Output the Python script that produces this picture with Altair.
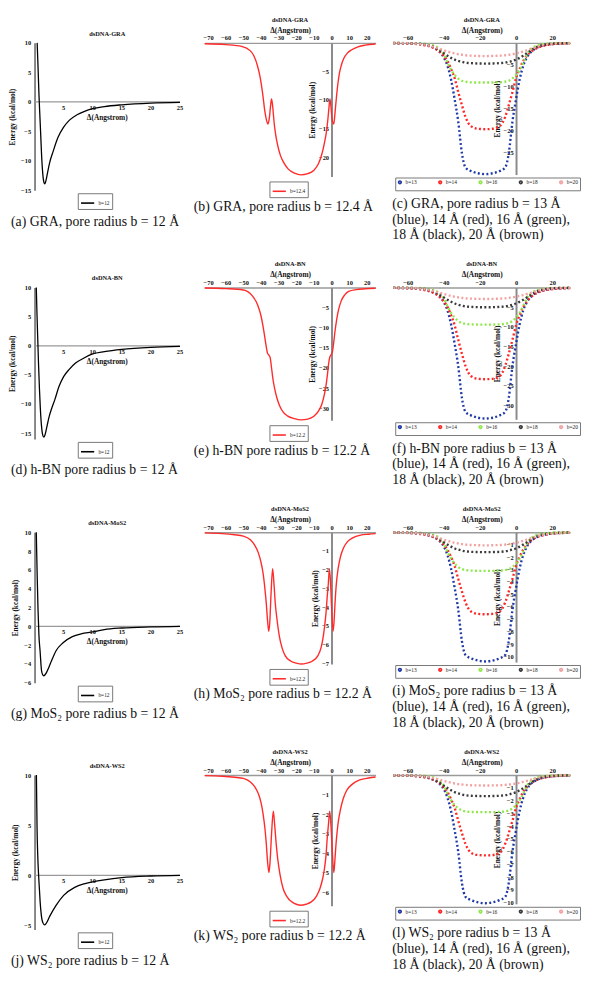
import altair as alt
import pandas as pd

FONT = "Liberation Serif"

# ---------------- column 1: b = 12 (x in Angstrom, energy in kcal/mol) ----------------
a_gra_x = [0.45, 0.6, 0.75, 0.9, 1.05, 1.2, 1.4, 1.6, 1.76, 1.95, 2.2, 2.6, 3.2, 4.0, 5.0, 6.0, 7.3, 8.5, 10, 12, 15, 20, 25]
a_gra_y = [10, 6.0, 1.5, -2.0, -5.3, -8.8, -12.0, -13.6, -13.9, -13.4, -12.2, -10.3, -8.4, -6.1, -4.3, -3.1, -2.2, -1.65, -1.15, -0.8, -0.5, -0.22, -0.1]
a_bn_x = [0.3, 0.42, 0.55, 0.7, 0.85, 1.0, 1.2, 1.4, 1.6, 1.8, 2.1, 2.5, 3.0, 3.5, 4.2, 5.0, 6.0, 7.0, 8.5, 10, 12, 15, 20, 25]
a_bn_y = [10, 5.5, 1.2, -3.5, -7.5, -10.8, -13.8, -15.3, -15.7, -15.3, -14.0, -12.2, -10.6, -9.2, -7.0, -5.3, -4.0, -3.0, -2.1, -1.4, -1.0, -0.6, -0.25, -0.1]
a_mos2_x = [0.3, 0.45, 0.6, 0.75, 0.95, 1.2, 1.4, 1.6, 1.8, 2.07, 2.5, 2.9, 3.7, 4.9, 6.5, 8, 10, 12, 15, 20, 25]
a_mos2_y = [10, 5.5, 1.8, -0.9, -2.6, -4.7, -5.15, -5.26, -5.15, -4.9, -4.3, -3.7, -2.6, -1.75, -1.1, -0.8, -0.6, -0.35, -0.18, -0.06, 0]
a_ws2_x = [0.32, 0.43, 0.55, 0.7, 0.85, 0.97, 1.1, 1.24, 1.45, 1.7, 2.0, 2.6, 3.7, 5.0, 6.9, 8.5, 10, 12, 15, 20, 25]
a_ws2_y = [10, 4.8, 2.0, 0, -1.5, -2.7, -3.6, -4.3, -4.75, -4.95, -4.8, -4.1, -3.0, -2.0, -1.2, -0.85, -0.65, -0.45, -0.23, -0.07, 0]
a_xticks = [5, 10, 15, 20, 25]

# ---------------- column 2: b = 12.4 / 12.2 ----------------
b_gra_x = [-72, -60, -51, -46, -44, -42, -40.5, -39, -37.8, -36.8, -36, -35.2, -34.5, -34, -33.4, -32.6, -31.8, -30.5, -29, -27, -24.5, -21, -17.3, -13.5, -10, -7.5, -5.5, -4, -3, -2.2, -1.5, -0.9, -0.3, 0.4, 1.3, 2.0, 2.8, 3.6, 4.5, 5.5, 7, 9, 11.5, 15, 19, 25]
b_gra_y = [-0.15, -0.3, -0.6, -1.4, -2.3, -4.0, -6.0, -9.0, -12.0, -13.6, -14.2, -13.0, -10.8, -9.8, -11.0, -13.8, -15.8, -18.0, -19.7, -21.0, -22.1, -22.8, -23.1, -22.9, -22.3, -21.2, -19.5, -17.5, -15.8, -13.8, -11.5, -9.8, -11.2, -13.5, -14.2, -12.2, -9.5, -7.2, -5.3, -4.0, -2.7, -1.8, -1.2, -0.7, -0.4, -0.2]
b_bn_x = [-72, -60, -50, -45, -42, -40, -38.5, -37.2, -36.3, -35.5, -34.8, -34, -33.2, -32.3, -31, -29.5, -27.5, -25, -21, -17.2, -13.5, -10, -7.5, -5.5, -4, -3, -2.2, -1.5, -0.9, -0.2, 0.5, 1.2, 2, 3, 4, 5.5, 7.5, 10, 14, 19, 25]
b_bn_y = [-0.1, -0.25, -0.6, -2.0, -4.2, -7.0, -10.5, -14.2, -16.3, -16.8, -17.4, -20.0, -22.8, -25.0, -27.4, -29.3, -30.9, -31.9, -32.6, -32.9, -32.7, -32.0, -30.8, -29.0, -26.5, -24.0, -21.2, -18.5, -17.2, -16.7, -16.0, -13.8, -10.8, -7.8, -5.5, -3.3, -1.8, -0.9, -0.5, -0.3, -0.15]
b_mos2_x = [-72, -62, -55, -50, -46, -43.5, -41.5, -40, -38.8, -37.8, -37, -36.3, -35.6, -35, -34.3, -33.4, -32.6, -31.9, -31, -29.6, -28, -26.3, -23, -20, -17, -14, -11, -7.7, -6, -4.9, -4, -3.1, -2.4, -1.8, -1.2, -0.6, 0, 0.9, 1.5, 2, 2.7, 3.5, 4.4, 5.4, 7, 9.1, 12, 16.5, 21, 25]
b_mos2_y = [-0.03, -0.07, -0.13, -0.2, -0.4, -0.7, -1.1, -1.6, -2.2, -3.0, -3.8, -4.7, -5.3, -4.8, -3.3, -1.95, -2.8, -3.8, -4.6, -5.55, -6.2, -6.6, -6.9, -7.0, -7.05, -7.0, -6.9, -6.6, -6.2, -5.7, -5.1, -4.3, -3.4, -2.75, -1.95, -2.6, -3.9, -5.3, -4.7, -3.8, -2.8, -2.1, -1.6, -1.2, -0.8, -0.5, -0.3, -0.15, -0.1, -0.07]
b_ws2_x = [-72, -62, -55, -50, -46, -43.5, -41.5, -40, -38.8, -37.8, -37, -36.3, -35.5, -34.9, -34, -33, -32.2, -31.4, -30.5, -29.2, -27.5, -25.5, -22.5, -20, -17.3, -14.5, -11.5, -8.5, -6.5, -5, -4, -3.1, -2.4, -1.7, -1.0, -0.3, 0.4, 1.3, 1.9, 2.5, 3.2, 4, 5, 6.5, 8.5, 12, 16, 21, 25]
b_ws2_y = [-0.03, -0.06, -0.11, -0.17, -0.35, -0.6, -0.95, -1.4, -2.0, -2.7, -3.5, -4.4, -5.0, -4.5, -3.0, -1.85, -2.6, -3.5, -4.3, -5.1, -5.8, -6.2, -6.5, -6.62, -6.67, -6.62, -6.5, -6.2, -5.8, -5.3, -4.8, -4.1, -3.2, -2.5, -1.85, -2.6, -3.8, -5.0, -4.4, -3.6, -2.9, -2.3, -1.8, -1.25, -0.8, -0.45, -0.25, -0.15, -0.1]

# ---------------- column 3: b = 13, 14, 16, 18, 20 ----------------
c_x = [-68, -62, -55, -50, -46, -43, -40, -38, -36, -34, -32, -30, -28, -25, -21, -17, -13, -9, -6, -4, -2, 0, 2, 4, 6, 9, 12, 16, 21, 26, 30]
c_series = ["b=13", "b=14", "b=16", "b=18", "b=20"]
c_colors = ["#1f3aa8", "#ff2626", "#8ee84a", "#3a3a3a", "#f3a0a0"]

c_gra = [
    [-0.06, -0.12, -0.24, -0.5, -1.0, -1.8, -3.3, -5.2, -8.3, -12.8, -17.9, -25.0, -28.3, -29.1, -29.6, -29.8, -29.6, -29.1, -28.3, -25.0, -17.9, -12.8, -8.3, -5.2, -3.3, -1.8, -1.0, -0.5, -0.24, -0.15, -0.09],
    [-0.06, -0.12, -0.27, -0.59, -1.1, -1.8, -2.9, -4.1, -5.9, -8.0, -11.2, -14.1, -16.8, -18.9, -19.5, -19.6, -19.5, -18.9, -16.8, -14.1, -11.2, -8.0, -5.9, -4.1, -2.9, -1.8, -1.1, -0.59, -0.27, -0.16, -0.1],
    [-0.02, -0.04, -0.09, -0.23, -0.54, -1.17, -2.6, -4.5, -6.1, -7.3, -8.1, -8.6, -8.8, -8.96, -9.0, -9.0, -9.0, -8.96, -8.8, -8.6, -8.1, -7.3, -6.1, -4.5, -2.6, -1.17, -0.54, -0.23, -0.09, -0.05, -0.03],
    [-0.02, -0.05, -0.14, -0.38, -0.85, -1.5, -2.35, -2.9, -3.4, -3.8, -4.1, -4.3, -4.5, -4.6, -4.68, -4.7, -4.68, -4.6, -4.5, -4.3, -4.1, -3.8, -3.4, -2.9, -2.35, -1.5, -0.85, -0.38, -0.14, -0.07, -0.04],
    [-0.03, -0.06, -0.18, -0.45, -0.84, -1.26, -1.68, -1.95, -2.19, -2.4, -2.58, -2.7, -2.82, -2.91, -2.97, -3.0, -2.97, -2.91, -2.82, -2.7, -2.58, -2.4, -2.19, -1.95, -1.68, -1.26, -0.84, -0.45, -0.18, -0.09, -0.05],
]
c_bn = [
    [-0.07, -0.13, -0.27, -0.57, -1.17, -2.0, -3.7, -5.8, -9.3, -14.3, -20.0, -28.0, -31.6, -32.5, -33.1, -33.3, -33.1, -32.5, -31.6, -28.0, -20.0, -14.3, -9.3, -5.8, -3.7, -2.0, -1.17, -0.57, -0.27, -0.17, -0.1],
    [-0.07, -0.14, -0.33, -0.7, -1.28, -2.1, -3.5, -4.9, -7.0, -9.6, -13.3, -16.8, -19.9, -22.5, -23.2, -23.3, -23.2, -22.5, -19.9, -16.8, -13.3, -9.6, -7.0, -4.9, -3.5, -2.1, -1.28, -0.7, -0.33, -0.19, -0.12],
    [-0.02, -0.04, -0.09, -0.24, -0.56, -1.22, -2.7, -4.7, -6.4, -7.6, -8.5, -9.0, -9.2, -9.35, -9.4, -9.4, -9.4, -9.35, -9.2, -9.0, -8.5, -7.6, -6.4, -4.7, -2.7, -1.22, -0.56, -0.24, -0.09, -0.06, -0.03],
    [-0.03, -0.05, -0.15, -0.4, -0.9, -1.6, -2.5, -3.1, -3.6, -4.05, -4.35, -4.6, -4.78, -4.9, -4.98, -5.0, -4.98, -4.9, -4.78, -4.6, -4.35, -4.05, -3.6, -3.1, -2.5, -1.6, -0.9, -0.4, -0.15, -0.08, -0.04],
    [-0.03, -0.06, -0.17, -0.44, -0.81, -1.22, -1.62, -1.89, -2.12, -2.32, -2.49, -2.61, -2.73, -2.81, -2.87, -2.9, -2.87, -2.81, -2.73, -2.61, -2.49, -2.32, -2.12, -1.89, -1.62, -1.22, -0.81, -0.44, -0.17, -0.09, -0.04],
]
c_mos2 = [
    [-0.02, -0.04, -0.08, -0.18, -0.36, -0.62, -1.14, -1.82, -2.91, -4.47, -6.24, -8.74, -9.88, -10.14, -10.33, -10.4, -10.33, -10.14, -9.88, -8.74, -6.24, -4.47, -2.91, -1.82, -1.14, -0.62, -0.36, -0.18, -0.08, -0.05, -0.03],
    [-0.02, -0.04, -0.09, -0.2, -0.36, -0.59, -0.99, -1.39, -1.98, -2.71, -3.76, -4.75, -5.64, -6.37, -6.57, -6.6, -6.57, -6.37, -5.64, -4.75, -3.76, -2.71, -1.98, -1.39, -0.99, -0.59, -0.36, -0.2, -0.09, -0.05, -0.03],
    [-0.01, -0.01, -0.03, -0.08, -0.19, -0.4, -0.9, -1.55, -2.11, -2.51, -2.79, -2.96, -3.04, -3.08, -3.1, -3.1, -3.1, -3.08, -3.04, -2.96, -2.79, -2.51, -2.11, -1.55, -0.9, -0.4, -0.19, -0.08, -0.03, -0.02, -0.01],
    [-0.01, -0.02, -0.05, -0.13, -0.29, -0.51, -0.8, -0.99, -1.15, -1.3, -1.39, -1.47, -1.53, -1.57, -1.59, -1.6, -1.59, -1.57, -1.53, -1.47, -1.39, -1.3, -1.15, -0.99, -0.8, -0.51, -0.29, -0.13, -0.05, -0.02, -0.01],
    [-0.01, -0.02, -0.06, -0.16, -0.29, -0.44, -0.59, -0.68, -0.77, -0.84, -0.9, -0.95, -0.99, -1.02, -1.04, -1.05, -1.04, -1.02, -0.99, -0.95, -0.9, -0.84, -0.77, -0.68, -0.59, -0.44, -0.29, -0.16, -0.06, -0.03, -0.02],
]
c_ws2 = [
    [-0.02, -0.04, -0.08, -0.17, -0.35, -0.6, -1.11, -1.76, -2.81, -4.32, -6.03, -8.44, -9.55, -9.8, -9.98, -10.05, -9.98, -9.8, -9.55, -8.44, -6.03, -4.32, -2.81, -1.76, -1.11, -0.6, -0.35, -0.17, -0.08, -0.05, -0.03],
    [-0.02, -0.04, -0.09, -0.19, -0.35, -0.57, -0.95, -1.32, -1.89, -2.58, -3.59, -4.54, -5.39, -6.08, -6.27, -6.3, -6.27, -6.08, -5.39, -4.54, -3.59, -2.58, -1.89, -1.32, -0.95, -0.57, -0.35, -0.19, -0.09, -0.05, -0.03],
    [-0.01, -0.01, -0.03, -0.07, -0.17, -0.38, -0.84, -1.45, -1.97, -2.35, -2.61, -2.77, -2.84, -2.89, -2.9, -2.9, -2.9, -2.89, -2.84, -2.77, -2.61, -2.35, -1.97, -1.45, -0.84, -0.38, -0.17, -0.07, -0.03, -0.02, -0.01],
    [-0.01, -0.02, -0.05, -0.13, -0.3, -0.53, -0.83, -1.02, -1.19, -1.34, -1.44, -1.52, -1.58, -1.62, -1.64, -1.65, -1.64, -1.62, -1.58, -1.52, -1.44, -1.34, -1.19, -1.02, -0.83, -0.53, -0.3, -0.13, -0.05, -0.02, -0.01],
    [-0.01, -0.02, -0.05, -0.12, -0.23, -0.34, -0.46, -0.53, -0.6, -0.66, -0.71, -0.74, -0.77, -0.8, -0.81, -0.82, -0.81, -0.8, -0.77, -0.74, -0.71, -0.66, -0.6, -0.53, -0.46, -0.34, -0.23, -0.12, -0.05, -0.02, -0.01],
]

# ---------------- text ----------------
headers = ["dsDNA-GRA", "dsDNA-BN", "dsDNA-MoS2", "dsDNA-WS2"]
tail = "(blue), 14 Å (red), 16 Å (green),\n18 Å (black), 20 Å (brown)"
captions = [
    ["(a) GRA, pore radius b = 12 Å", "(b) GRA, pore radius b = 12.4 Å", "(c) GRA, pore radius b = 13 Å\n" + tail],
    ["(d) h-BN pore radius b = 12 Å", "(e) h-BN pore radius b = 12.2 Å", "(f) h-BN pore radius b = 13 Å\n" + tail],
    ["(g) MoS₂ pore radius b = 12 Å", "(h) MoS₂ pore radius b = 12.2 Å", "(i) MoS₂ pore radius b = 13 Å\n" + tail],
    ["(j) WS₂ pore radius b = 12 Å", "(k) WS₂ pore radius b = 12.2 Å", "(l) WS₂ pore radius b = 13 Å\n" + tail],
]
b_labels = ["b=12.4", "b=12.2", "b=12.2", "b=12.2"]

a_sets = [(a_gra_x, a_gra_y, [-15, 10], [-15, -10, -5, 0, 5, 10], 150),
          (a_bn_x, a_bn_y, [-16, 10], [-15, -10, -5, 0, 5, 10], 154),
          (a_mos2_x, a_mos2_y, [-6, 10], [-6, -4, -2, 0, 2, 4, 6, 8, 10], 153),
          (a_ws2_x, a_ws2_y, [-5.4, 10], [-5, 0, 5, 10], 157)]
b_sets = [(b_gra_x, b_gra_y, [-23.4, 0], [-5, -10, -15, -20], 136),
          (b_bn_x, b_bn_y, [-33, 0], [-5, -10, -15, -20, -25, -30], 135),
          (b_mos2_x, b_mos2_y, [-7.05, 0], [-1, -2, -3, -4, -5, -6, -7], 134),
          (b_ws2_x, b_ws2_y, [-6.7, 0], [-1, -2, -3, -4, -5, -6], 133)]
c_sets = [(c_gra, [-29.9, 0], [-5, -10, -15, -20, -25], 134),
          (c_bn, [-33.5, 0], [-5, -10, -15, -20, -25, -30], 134),
          (c_mos2, [-10.45, 0], [-1, -2, -3, -4, -5, -6, -7, -8, -9, -10], 132),
          (c_ws2, [-10.1, 0], [-1, -2, -3, -4, -5, -6, -7, -8, -9, -10], 131)]


def ax(**kw):
    base = dict(labelFont=FONT, labelFontWeight="bold", labelFontSize=6.5, labelColor="#111",
                titleFont=FONT, titleFontWeight="bold", titleFontSize=7.5, titleColor="#111",
                ticks=False, grid=False, labelFlush=False, labelOverlap=False)
    base.update(kw)
    return alt.Axis(**base)


def leg(**kw):
    base = dict(orient="none", title=None, direction="horizontal", strokeColor="#777",
                padding=2, labelFont=FONT, labelFontSize=5.5, labelColor="#222", labelOffset=3)
    base.update(kw)
    return alt.Legend(**base)


def ttl(text):
    return alt.TitleParams(text=text, font=FONT, fontSize=6.5, fontWeight="bold", color="#111",
                           frame="group", anchor="middle", offset=3)


def caption(text, x, y):
    return alt.Chart(pd.DataFrame({"t": [text]})).mark_text(
        align="left", baseline="top", font=FONT, fontSize=14, lineHeight=16,
        lineBreak="\n", color="#111").encode(text="t:N", x=alt.value(x), y=alt.value(y))


def panel_a(header, cap, x, y, ydom, yvals, h):
    w = 148
    xs = alt.Scale(domain=[0, 25], nice=False, zero=False)
    ys = alt.Scale(domain=ydom, nice=False, zero=False)
    yax = ax(orient="left", values=yvals, domainColor="#555", domainWidth=1.4,
             labelPadding=4, title="Energy (kcal/mol)", titlePadding=4)
    df = pd.DataFrame({"x": x, "y": y, "s": ["b=12"] * len(x)})
    line = alt.Chart(df).mark_line(strokeWidth=1.3, interpolate="monotone").encode(
        x=alt.X("x:Q", scale=xs, axis=None),
        y=alt.Y("y:Q", scale=ys, axis=yax),
        color=alt.Color("s:N", scale=alt.Scale(domain=["b=12"], range=["#000000"]),
                        legend=leg(symbolType="stroke", symbolSize=180, symbolStrokeWidth=1.6,
                                   legendX=44, legendY=h + 3)),
    )
    zero = alt.Chart(pd.DataFrame({"y": [0]})).mark_rule(color="#9a9a9a", strokeWidth=1.2).encode(
        y=alt.Y("y:Q", scale=ys, axis=yax))
    tick_df = pd.DataFrame({"x": a_xticks, "y": [0] * len(a_xticks)})
    ticks = alt.Chart(tick_df).mark_text(baseline="top", dy=3, font=FONT, fontWeight="bold",
                                         fontSize=6.5, color="#111").encode(
        x=alt.X("x:Q", scale=xs, axis=None), y=alt.Y("y:Q", scale=ys, axis=yax), text="x:Q")
    xt = alt.Chart(pd.DataFrame({"x": [12.5], "y": [0], "t": ["Δ(Angstrom)"]})).mark_text(
        baseline="top", dy=12, font=FONT, fontWeight="bold", fontSize=7.5, color="#111").encode(
        x=alt.X("x:Q", scale=xs, axis=None), y=alt.Y("y:Q", scale=ys, axis=yax), text="t:N")
    return (alt.layer(zero, line, ticks, xt, caption(cap, -24, h + 25))
            .properties(width=w, height=h, title=ttl(header)))


def panel_b(header, cap, lab, x, y, ydom, yvals, h):
    w = 174
    xdom = [-72, 25]
    off = w * (0 - xdom[0]) / (xdom[1] - xdom[0])
    df = pd.DataFrame({"x": x, "y": y, "s": [lab] * len(x)})
    line = alt.Chart(df).mark_line(strokeWidth=1.4, interpolate="monotone").encode(
        x=alt.X("x:Q", scale=alt.Scale(domain=xdom, nice=False, zero=False),
                axis=ax(orient="top", values=list(range(-70, 30, 10)), domainColor="#9a9a9a",
                        domainWidth=1.5, labelPadding=2, title="Δ(Angstrom)", titlePadding=1)),
        y=alt.Y("y:Q", scale=alt.Scale(domain=ydom, nice=False, zero=False),
                axis=ax(orient="left", values=yvals, offset=-off, domainColor="#8a8a8a",
                        domainWidth=2, labelPadding=3, title="Energy (kcal/mol)", titlePadding=2)),
        color=alt.Color("s:N", scale=alt.Scale(domain=[lab], range=["#ff2b2b"]),
                        legend=leg(symbolType="stroke", symbolSize=180, symbolStrokeWidth=1.6,
                                   legendX=66, legendY=h + 5)),
    )
    return alt.layer(line, caption(cap, -11, h + 24)).properties(width=w, height=h, title=ttl(header))


def panel_c(header, cap, ys, ydom, yvals, h):
    w = 180
    xdom = [-68, 30]
    off = w * (0 - xdom[0]) / (xdom[1] - xdom[0])
    rows = []
    for name, arr in zip(c_series, ys):
        for xv, yv in zip(c_x, arr):
            rows.append({"x": xv, "y": yv, "s": name})
    df = pd.DataFrame(rows)
    line = alt.Chart(df).mark_line(strokeWidth=2.4, strokeDash=[2, 2.4], interpolate="monotone").encode(
        x=alt.X("x:Q", scale=alt.Scale(domain=xdom, nice=False, zero=False),
                axis=ax(orient="top", values=[-60, -40, -20, 0, 20], domainColor="#9a9a9a",
                        domainWidth=1.5, labelPadding=2, title="Δ(Angstrom)", titlePadding=1)),
        y=alt.Y("y:Q", scale=alt.Scale(domain=ydom, nice=False, zero=False),
                axis=ax(orient="left", values=yvals, offset=-off, domainColor="#8a8a8a",
                        domainWidth=2, labelPadding=3, title="Energy (kcal/mol)", titlePadding=2)),
        color=alt.Color("s:N", scale=alt.Scale(domain=c_series, range=c_colors),
                        legend=leg(symbolType="circle", symbolSize=3, symbolStrokeWidth=2.6,
                                   columns=5, columnPadding=17, legendX=2, legendY=h + 3)),
        detail="s:N",
    )
    return alt.layer(line, caption(cap, -1, h + 23)).properties(width=w, height=h, title=ttl(header))


panels = []
for i in range(4):
    ax_, ay_, adom, avals, ah = a_sets[i]
    bx_, by_, bdom, bvals, bh = b_sets[i]
    cys, cdom, cvals, ch = c_sets[i]
    panels.append(panel_a(headers[i], captions[i][0], ax_, ay_, adom, avals, ah))
    panels.append(panel_b(headers[i], captions[i][1], b_labels[i], bx_, by_, bdom, bvals, bh))
    panels.append(panel_c(headers[i], captions[i][2], cys, cdom, cvals, ch))

chart = (alt.concat(*panels, columns=3, spacing=alt.RowColnumber(row=19, column=10))
         .resolve_scale(color="independent", x="independent", y="independent")
         .resolve_legend(color="independent")
         .properties(padding=0)
         .configure_view(stroke=None))

chart.save("out.html", embed_options={"renderer": "svg", "actions": False})
